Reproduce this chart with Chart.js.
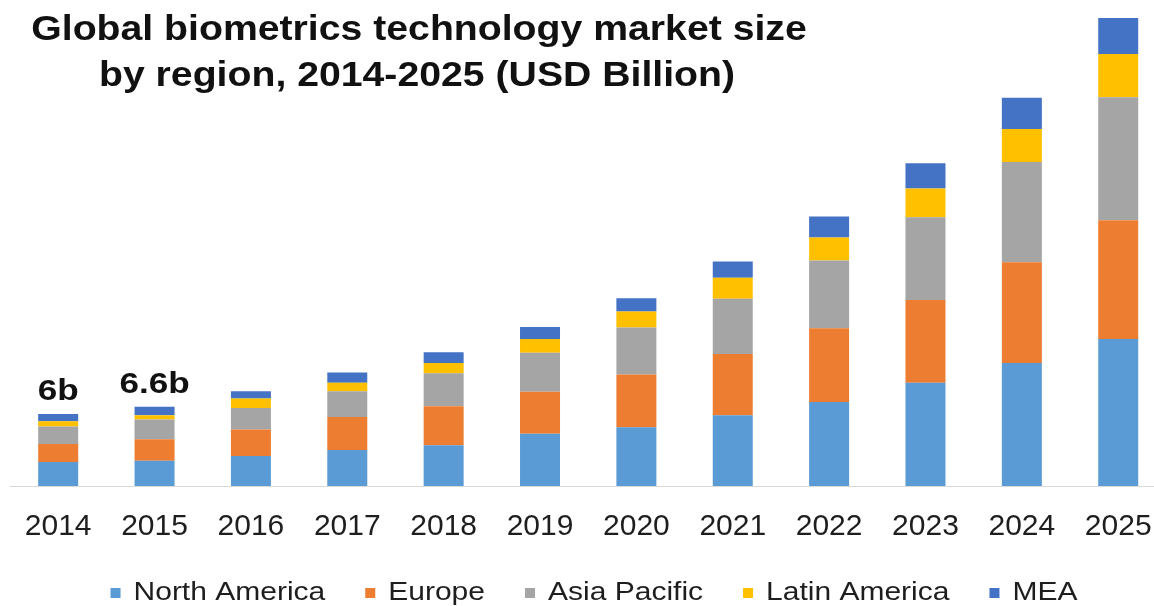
<!DOCTYPE html>
<html>
<head>
<meta charset="utf-8">
<script src="https://cdn.jsdelivr.net/npm/chart.js@4.4.1/dist/chart.umd.min.js"></script>
<style>
  html, body { margin: 0; padding: 0; background: #ffffff; overflow: hidden; }
  #wrap { width: 1170px; height: 606px; }
</style>
</head>
<body>
<div id="wrap"><canvas id="c" width="1170" height="606"></canvas></div>
<script>
// Market size by region, USD billion
const years = ['2014', '2015', '2016', '2017', '2018', '2019', '2020', '2021', '2022', '2023', '2024', '2025'];
const regions = ['North America', 'Europe', 'Asia Pacific', 'Latin America', 'MEA'];
const northAmerica = [2.0, 2.1, 2.5, 3.0, 3.4, 4.35, 4.9, 5.9, 7.0, 8.6, 10.25, 12.25];
const europe       = [1.5, 1.8, 2.2, 2.75, 3.25, 3.5, 4.4, 5.1, 6.15, 6.9, 8.4, 9.9];
const asiaPacific  = [1.45, 1.65, 1.8, 2.15, 2.75, 3.25, 3.9, 4.6, 5.65, 6.9, 8.35, 10.25];
const latinAmerica = [0.45, 0.35, 0.8, 0.7, 0.85, 1.15, 1.35, 1.75, 1.9, 2.4, 2.75, 3.6];
const mea          = [0.6, 0.7, 0.6, 0.85, 0.9, 1.0, 1.1, 1.35, 1.75, 2.1, 2.6, 3.0];
// Years whose stack total is printed above the bar
const labelledYears = ['2014', '2015'];
const titleLines = ['Global biometrics technology market size', 'by region, 2014-2025 (USD Billion)'];

const seriesValues = [northAmerica, europe, asiaPacific, latinAmerica, mea];
const seriesColors = ['#5B9BD5', '#ED7D31', '#A5A5A5', '#FFC000', '#4472C4'];

const totals = years.map((_, i) => seriesValues.reduce((s, arr) => s + arr[i], 0));
const fmtTotal = v => (Math.round(v * 10) / 10).toString() + 'b';

const FONT = '"Liberation Sans", Arial, Helvetica, sans-serif';

function drawStretched(ctx, text, x, y, sx) {
  ctx.save();
  ctx.translate(x, y);
  ctx.scale(sx, 1);
  ctx.fillText(text, 0, 0);
  ctx.restore();
}

// Title, stack totals and the legend row
const overlay = {
  id: 'overlay',
  afterDraw(chart) {
    const ctx = chart.ctx;
    ctx.save();
    ctx.textBaseline = 'alphabetic';

    // title
    ctx.fillStyle = '#111111';
    ctx.textAlign = 'center';
    ctx.font = 'bold 35px ' + FONT;
    drawStretched(ctx, titleLines[0], 419, 40, 1.12);
    drawStretched(ctx, titleLines[1], 417, 86, 1.12);

    // totals above selected stacks
    const topMeta = chart.getDatasetMeta(chart.data.datasets.length - 1);
    ctx.font = 'bold 30px ' + FONT;
    ctx.fillStyle = '#111111';
    labelledYears.forEach(y => {
      const i = years.indexOf(y);
      const bar = topMeta.data[i];
      drawStretched(ctx, fmtTotal(totals[i]), bar.x, bar.y - 14, 1.17);
    });

    // legend
    const sx = 1.2, box = 10, gap = 13, itemGap = 40, baseline = 600, centerX = 594;
    ctx.font = '25px ' + FONT;
    ctx.textAlign = 'left';
    const widths = regions.map(r => ctx.measureText(r).width * sx);
    const total = widths.reduce((s, w) => s + w + box + gap, 0) + itemGap * (regions.length - 1);
    let x = centerX - total / 2;
    regions.forEach((r, k) => {
      ctx.fillStyle = seriesColors[k];
      ctx.fillRect(x, baseline - 12, box, box);
      ctx.fillStyle = '#1e1e1e';
      drawStretched(ctx, r, x + box + gap, baseline, sx);
      x += box + gap + widths[k] + itemGap;
    });
    ctx.restore();
  }
};

new Chart(document.getElementById('c'), {
  type: 'bar',
  data: {
    labels: years,
    datasets: regions.map((name, k) => ({
      label: name,
      data: seriesValues[k],
      backgroundColor: seriesColors[k],
      borderWidth: 0,
      categoryPercentage: 1.0,
      barPercentage: 0.415
    }))
  },
  options: {
    responsive: false,
    animation: false,
    devicePixelRatio: 1,
    layout: { padding: { left: 10, right: 3.6, top: 0, bottom: 70 } },
    plugins: {
      legend: { display: false },
      title: { display: false },
      tooltip: { enabled: false }
    },
    scales: {
      x: {
        stacked: true,
        // tick marks are hidden (grid off); tickLength only offsets the labels
        grid: { display: false, drawTicks: true, tickLength: 23 },
        border: { display: true, color: '#D9D9D9', width: 1 },
        ticks: {
          color: '#1e1e1e',
          font: { family: FONT, size: 30 },
          padding: 0,
          maxRotation: 0,
          autoSkip: false
        },
        afterFit(scale) { scale.height = 50; }
      },
      y: {
        stacked: true,
        display: false,
        min: 0,
        max: 40.5
      }
    }
  },
  plugins: [overlay]
});
</script>
</body>
</html>
